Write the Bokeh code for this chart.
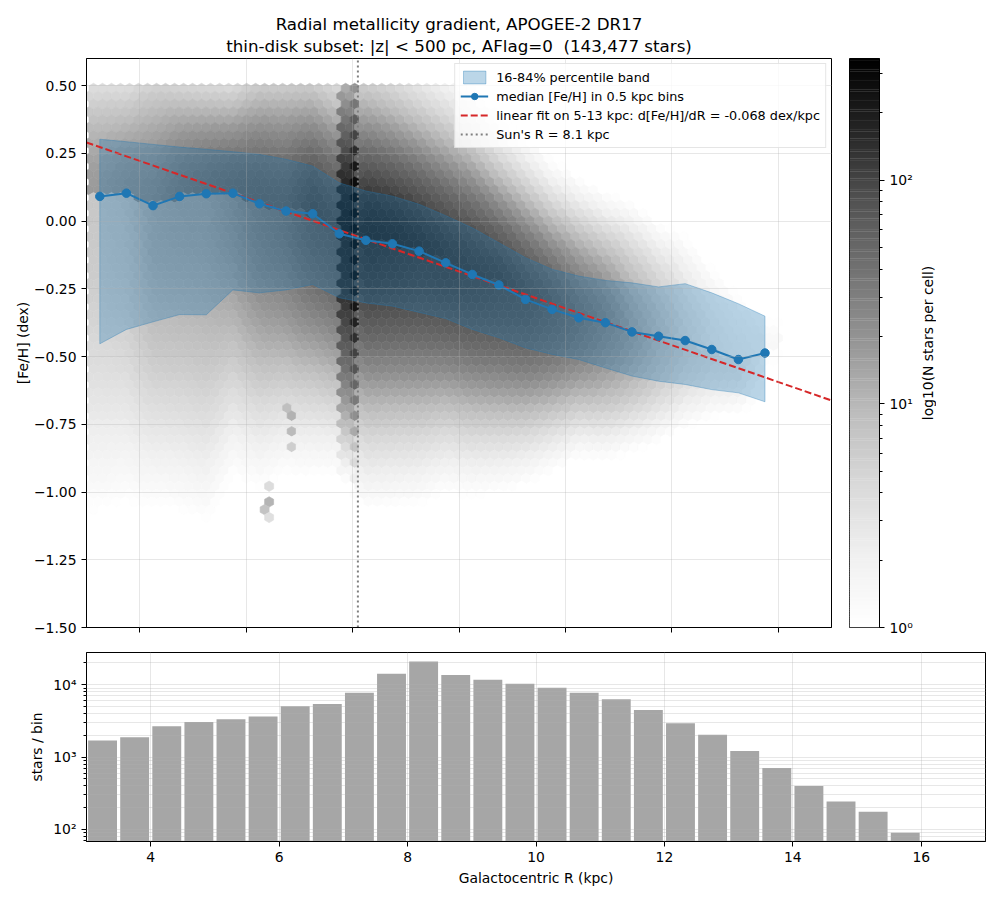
import numpy as np
from bokeh.plotting import figure
from bokeh.models import (LogColorMapper, FixedTicker, Legend, LegendItem,
                          Title, Range1d, ColumnDataSource, CustomJSTickFormatter)
from bokeh.layouts import column, row
from bokeh.transform import transform
from bokeh.util.hex import axial_to_cartesian, cartesian_to_axial
from bokeh.embed import file_html
from bokeh.resources import INLINE

FONT = "DejaVu Sans"

# ------------------------------------------------------------------
# Data
# ------------------------------------------------------------------
bin_left = [3.0, 3.5, 4.0, 4.5, 5.0, 5.5, 6.0, 6.5, 7.0, 7.5, 8.0, 8.5, 9.0,
            9.5, 10.0, 10.5, 11.0, 11.5, 12.0, 12.5, 13.0, 13.5, 14.0, 14.5, 15.0, 15.5]
bin_center = [3.25, 3.75, 4.25, 4.75, 5.25, 5.75, 6.25, 6.75, 7.25, 7.75, 8.25, 8.75, 9.25,
              9.75, 10.25, 10.75, 11.25, 11.75, 12.25, 12.75, 13.25, 13.75, 14.25, 14.75, 15.25, 15.75]
bin_counts = [1695, 1885, 2675, 3060, 3335, 3630, 5035, 5420, 7760, 14170, 20940, 13590, 11720,
              10320, 9100, 7760, 6285, 4480, 2940, 2030, 1210, 706, 399, 243, 175, 90]
median_feh = [0.091, 0.103, 0.057, 0.091, 0.101, 0.103, 0.064, 0.037, 0.027, -0.047, -0.071, -0.084, -0.111,
              -0.154, -0.197, -0.236, -0.289, -0.326, -0.357, -0.375, -0.409, -0.425, -0.441, -0.474, -0.511, -0.487]
p16_feh = [-0.453, -0.400, -0.372, -0.345, -0.346, -0.254, -0.265, -0.254, -0.234, -0.283, -0.302, -0.314, -0.337,
           -0.360, -0.400, -0.431, -0.468, -0.492, -0.511, -0.542, -0.572, -0.591, -0.603, -0.622, -0.634, -0.667]
p84_feh = [0.302, 0.293, 0.283, 0.273, 0.265, 0.256, 0.246, 0.228, 0.203, 0.141, 0.111, 0.092, 0.062,
           0.020, -0.025, -0.080, -0.135, -0.178, -0.203, -0.219, -0.228, -0.243, -0.231, -0.265, -0.305, -0.351]

# solar-neighbourhood pile-up seen as the dark vertical strip:
# R interval inside a histogram bin and the share of that bin's stars it holds
pileup_lo = [7.76, 8.0]
pileup_hi = [8.0, 8.12]
pileup_share = [0.72, 0.45]
PILEUP_WIDEN = 1.2

# small isolated clumps visible below the disk cloud
knot_R = [6.42, 6.42, 6.42, 6.42, 6.78, 6.78, 6.78, 6.78]
knot_feh = [-0.99, -1.03, -1.06, -1.09, -0.68, -0.73, -0.78, -0.83]
knot_n = [3, 10, 7, 3, 5, 8, 7, 4]

FIT_SLOPE = -0.068
FIT_INTERCEPT = 0.494
SUN_R = 8.1
FEH_CAP = 0.5
CELL_SCALE = 0.62      # calibration of cell counts to the reference grey levels
TAIL_W, TAIL_K = 0.2, 1.8

x_ticks = [4, 6, 8, 10, 12, 14, 16]
x_tick_labels = ["4", "6", "8", "10", "12", "14", "16"]
feh_ticks = [0.5, 0.25, 0.0, -0.25, -0.5, -0.75, -1.0, -1.25, -1.5]
feh_tick_labels = ["0.50", "0.25", "0.00", "\u22120.25", "\u22120.50", "\u22120.75",
                   "\u22121.00", "\u22121.25", "\u22121.50"]
hist_ticks = [100, 1000, 10000]
hist_tick_labels = ["10\u00b2", "10\u00b3", "10\u2074"]
cbar_ticks = [1, 10, 100]
cbar_tick_labels = ["10\u2070", "10\u00b9", "10\u00b2"]

X_RANGE = (3.0, 17.0)
FEH_RANGE = (-1.5, 0.6)
HIST_RANGE = (68, 27900)
CBAR_RANGE = (1, 350)

# ------------------------------------------------------------------
# Layout constants
# ------------------------------------------------------------------
MAIN_W, MAIN_H = 745, 569
HIST_W, HIST_H = 899, 189
LEFT = 86
TOP = 58
TICK_FS = "13.9px"
LABEL_FS = "13.9px"
TITLE_FS = "16.7px"
LEGEND_FS = "12.8px"

greys_stops = ["#ffffff", "#f0f0f0", "#d9d9d9", "#bdbdbd", "#969696",
               "#737373", "#525252", "#252525", "#000000"]


def build_palette(stops, n=256):
    rgb = np.array([[int(c[i:i + 2], 16) for i in (1, 3, 5)] for c in stops], float)
    pos = np.linspace(0, 1, len(stops))
    out = []
    for v in np.linspace(0, 1, n):
        ch = [np.interp(v, pos, rgb[:, k]) for k in range(3)]
        out.append("#%02x%02x%02x" % tuple(int(round(c)) for c in ch))
    return out


palette = build_palette(greys_stops)
mapper = LogColorMapper(palette=palette, low=CBAR_RANGE[0], high=CBAR_RANGE[1])

# ------------------------------------------------------------------
# Hex-cell counts derived from the per-bin statistics above
# ------------------------------------------------------------------
px_per_kpc = MAIN_W / (X_RANGE[1] - X_RANGE[0])
px_per_dex = MAIN_H / (FEH_RANGE[1] - FEH_RANGE[0])
ASPECT = px_per_kpc / px_per_dex
HEX_SIZE = 5.2 / px_per_dex
HEX_AREA = 1.5 * HEX_SIZE ** 2 * np.sqrt(3) / ASPECT
BIN_W = bin_left[1] - bin_left[0]
R_MIN, R_MAX = bin_left[0], bin_left[-1] + BIN_W

sq3 = np.sqrt(3)
r_lo = int(np.floor(-FEH_RANGE[1] / (1.5 * HEX_SIZE))) - 1
r_hi = int(np.ceil(-FEH_RANGE[0] / (1.5 * HEX_SIZE))) + 1
q_lo = int(np.floor(X_RANGE[0] * ASPECT / (HEX_SIZE * sq3) - r_hi / 2)) - 2
q_hi = int(np.ceil(X_RANGE[1] * ASPECT / (HEX_SIZE * sq3) - r_lo / 2)) + 2
Q, RR = np.meshgrid(np.arange(q_lo, q_hi + 1), np.arange(r_lo, r_hi + 1))
Q = Q.ravel()
RR = RR.ravel()
hx, hy = axial_to_cartesian(Q, RR, HEX_SIZE, "pointytop", ASPECT)
keep = (hx >= X_RANGE[0]) & (hx <= X_RANGE[1]) & (hy >= FEH_RANGE[0]) & (hy <= FEH_RANGE[1])
Q, RR, hx, hy = Q[keep], RR[keep], hx[keep], hy[keep]

# radial star density (stars per kpc): bins outside the pile-up use their mean,
# pile-up bins are split into the strip and the remainder
counts_arr = np.array(bin_counts, float)
base_density = counts_arr / BIN_W
strip_density = []
for a, b, f in zip(pileup_lo, pileup_hi, pileup_share):
    ib = int(np.floor((a - bin_left[0]) / BIN_W))
    base_density[ib] = counts_arr[ib] * (1 - f) / (BIN_W - (b - a))
    strip_density.append(counts_arr[ib] * f / (b - a))
inside_R = (hx >= R_MIN) & (hx < R_MAX)
n_per_kpc = np.where(inside_R, np.interp(hx, bin_center, base_density), 0.0)
in_strip = np.zeros(hx.shape, bool)
for a, b, d in zip(pileup_lo, pileup_hi, strip_density):
    sel = (hx >= a) & (hx < b)
    n_per_kpc = np.where(sel, d, n_per_kpc)
    in_strip |= sel
widen = np.where(in_strip, PILEUP_WIDEN, 1.0)
tail_w = np.where(in_strip, 0.0, TAIL_W)

Z16 = 0.9945  # one-sided 16th-percentile z value
med_i = np.interp(hx, bin_center, median_feh)
slo_i = np.interp(hx, bin_center, (np.array(median_feh) - np.array(p16_feh)) / Z16) * widen
shi_i = np.interp(hx, bin_center, (np.array(p84_feh) - np.array(median_feh)) / Z16) * widen


def half_gauss(f, m, slo, shi):
    s = np.where(f < m, slo, shi)
    return 0.5 * 2.0 / (np.sqrt(2 * np.pi) * s) * np.exp(-0.5 * ((f - m) / s) ** 2)


dens = ((1 - tail_w) * half_gauss(hy, med_i, slo_i, shi_i)
        + tail_w * half_gauss(hy, med_i, TAIL_K * slo_i, TAIL_K * shi_i))
cnt = CELL_SCALE * n_per_kpc * dens * HEX_AREA
cnt = np.where(hy <= FEH_CAP, cnt, 0.0)

cells = {(int(q), int(r)): c for q, r, c in zip(Q, RR, cnt)}
kq, kr = cartesian_to_axial(np.array(knot_R), np.array(knot_feh), HEX_SIZE, "pointytop", ASPECT)
for q, r, n in zip(kq, kr, knot_n):
    key = (int(q), int(r))
    cells[key] = cells.get(key, 0.0) + n

hq = [k[0] for k, v in cells.items() if v >= 1]
hr = [k[1] for k, v in cells.items() if v >= 1]
hc = [v for k, v in cells.items() if v >= 1]
hex_src = ColumnDataSource(dict(q=hq, r=hr, count=hc))

# ------------------------------------------------------------------
# Main panel
# ------------------------------------------------------------------
p = figure(frame_width=MAIN_W, frame_height=MAIN_H,
           x_range=Range1d(*X_RANGE), y_range=Range1d(*FEH_RANGE),
           min_border_left=LEFT, min_border_right=2, min_border_top=TOP, min_border_bottom=20,
           toolbar_location=None, output_backend="svg", title=None)
p.add_layout(Title(text="thin-disk subset: |z| < 500 pc, AFlag=0 \u00a0(143,477 stars)", align="center",
                   text_font=FONT, text_font_size=TITLE_FS, text_font_style="normal",
                   text_color="black", standoff=5), "above")
p.add_layout(Title(text="Radial metallicity gradient, APOGEE-2 DR17", align="center",
                   text_font=FONT, text_font_size=TITLE_FS, text_font_style="normal",
                   text_color="black", standoff=-4), "above")

p.hex_tile(q="q", r="r", size=HEX_SIZE, orientation="pointytop", aspect_scale=ASPECT,
           source=hex_src, fill_color=transform("count", mapper),
           line_color=transform("count", mapper), line_width=0.6)

band_x = bin_center + bin_center[::-1]
band_y = p84_feh + p16_feh[::-1]
band_r = p.patch(band_x, band_y, fill_color="#1f77b4", fill_alpha=0.3,
                 line_color="#1f77b4", line_alpha=0.35, line_width=1)

fit_x = np.array(X_RANGE)
fit_r = p.line(fit_x, FIT_INTERCEPT + FIT_SLOPE * fit_x, line_color="#d62728",
               line_width=2, line_dash="7 3")
med_l = p.line(bin_center, median_feh, line_color="#1f77b4", line_width=2)
med_s = p.scatter(bin_center, median_feh, size=8.5, marker="circle",
                  fill_color="#1f77b4", line_color="#1f77b4")
sun_r = p.line([SUN_R, SUN_R], list(FEH_RANGE), line_color="#7f7f7f", line_width=2,
               line_dash="2 3")

legend = Legend(items=[
    LegendItem(label="16-84% percentile band", renderers=[band_r]),
    LegendItem(label="median [Fe/H] in 0.5 kpc bins", renderers=[med_l, med_s]),
    LegendItem(label="linear fit on 5-13 kpc: d[Fe/H]/dR = -0.068 dex/kpc", renderers=[fit_r]),
    LegendItem(label="Sun's R = 8.1 kpc", renderers=[sun_r]),
], location="top_right")
legend.label_text_font = FONT
legend.label_text_font_size = LEGEND_FS
legend.label_text_color = "black"
legend.border_line_color = "#cccccc"
legend.border_line_width = 1
legend.background_fill_alpha = 0.8
legend.padding = 5
legend.spacing = 3
legend.margin = 5
legend.glyph_width = 28
legend.glyph_height = 16
legend.label_height = 16
legend.label_standoff = 8
p.add_layout(legend)

p.xaxis.ticker = FixedTicker(ticks=x_ticks)
p.xaxis.formatter = CustomJSTickFormatter(code="return ''")
p.yaxis.ticker = FixedTicker(ticks=feh_ticks)
p.yaxis.major_label_overrides = {t: s for t, s in zip(feh_ticks, feh_tick_labels)}
p.yaxis.axis_label = "[Fe/H] (dex)"
p.yaxis.axis_label_standoff = 0
p.xgrid.ticker = FixedTicker(ticks=x_ticks)
p.ygrid.ticker = FixedTicker(ticks=feh_ticks)

# ------------------------------------------------------------------
# Colour bar (own narrow figure) and its label
# ------------------------------------------------------------------
cb = figure(frame_width=30, frame_height=MAIN_H, x_range=Range1d(0, 1),
            y_range=Range1d(*CBAR_RANGE), y_axis_type="log", y_axis_location="right",
            min_border_left=16, min_border_right=38, min_border_top=TOP, min_border_bottom=20,
            toolbar_location=None, output_backend="svg", title=None)
levels = np.logspace(np.log10(CBAR_RANGE[0]), np.log10(CBAR_RANGE[1]), len(palette) + 1)
cb.quad(left=0, right=1, bottom=levels[:-1], top=levels[1:] * 1.004, fill_color=palette,
        line_color=None)
cb.xaxis.visible = False
cb.xgrid.visible = False
cb.ygrid.visible = False
cb_minor = [m * d for d in (1, 10, 100) for m in range(2, 10)
            if CBAR_RANGE[0] < m * d < CBAR_RANGE[1]]
cb.yaxis.ticker = FixedTicker(ticks=cbar_ticks, minor_ticks=cb_minor)
cb.yaxis.major_label_overrides = {t: s for t, s in zip(cbar_ticks, cbar_tick_labels)}

cl = figure(frame_width=1, frame_height=MAIN_H, x_range=Range1d(0, 1), y_range=Range1d(0, 1),
            min_border_left=0, min_border_right=0, min_border_top=TOP, min_border_bottom=20,
            toolbar_location=None, output_backend="svg", title=None)
cl.add_layout(Title(text="log10(N stars per cell)", align="center", text_font=FONT,
                    text_font_size=LABEL_FS, text_font_style="normal", text_color="black",
                    standoff=0), "left")
cl.xaxis.visible = False
cl.yaxis.visible = False
cl.xgrid.visible = False
cl.ygrid.visible = False
cl.outline_line_color = None

# ------------------------------------------------------------------
# Histogram panel
# ------------------------------------------------------------------
h = figure(frame_width=HIST_W, frame_height=HIST_H, x_range=Range1d(*X_RANGE),
           y_range=Range1d(*HIST_RANGE), y_axis_type="log",
           min_border_left=LEFT, min_border_right=7, min_border_top=5, min_border_bottom=45,
           toolbar_location=None, output_backend="svg", title=None)
h.vbar(x=bin_center, top=bin_counts, bottom=HIST_RANGE[0], width=0.45,
       fill_color="#a6a6a6", line_color=None)
h_minor = [m * d for d in (10, 100, 1000, 10000) for m in range(2, 10)
           if HIST_RANGE[0] < m * d < HIST_RANGE[1]]
h.xaxis.ticker = FixedTicker(ticks=x_ticks)
h.xaxis.major_label_overrides = {t: s for t, s in zip(x_ticks, x_tick_labels)}
h.xaxis.axis_label = "Galactocentric R (kpc)"
h.yaxis.ticker = FixedTicker(ticks=hist_ticks, minor_ticks=h_minor)
h.yaxis.major_label_overrides = {t: s for t, s in zip(hist_ticks, hist_tick_labels)}
h.yaxis.axis_label = "stars / bin"
h.yaxis.axis_label_standoff = 5
h.xgrid.ticker = FixedTicker(ticks=x_ticks)
h.ygrid.ticker = FixedTicker(ticks=hist_ticks, minor_ticks=h_minor)
h.ygrid.minor_grid_line_color = "#b0b0b0"
h.ygrid.minor_grid_line_alpha = 0.3

for f in (p, cb, h):
    f.outline_line_color = "black"
    f.outline_line_width = 1
    f.outline_line_alpha = 1
    for ax in f.axis:
        ax.major_label_text_font = FONT
        ax.major_label_text_font_size = TICK_FS
        ax.major_label_text_color = "black"
        ax.axis_label_text_font = FONT
        ax.axis_label_text_font_size = LABEL_FS
        ax.axis_label_text_font_style = "normal"
        ax.axis_label_text_color = "black"
        ax.axis_line_color = "black"
        ax.major_tick_line_color = "black"
        ax.minor_tick_line_color = "black"
        ax.major_tick_out = 5
        ax.major_tick_in = 0
        ax.minor_tick_out = 3
        ax.minor_tick_in = 0
        ax.major_label_standoff = 5
for f in (p, h):
    f.xaxis.minor_tick_out = 0
    for g in (f.xgrid[0], f.ygrid[0]):
        g.grid_line_color = "#b0b0b0"
        g.grid_line_alpha = 0.3
        g.grid_line_width = 1
        g.level = "guide"
p.yaxis.minor_tick_out = 0

layout = column(row(p, cb, cl), h)
open("out.html", "w").write(file_html(layout, INLINE))
